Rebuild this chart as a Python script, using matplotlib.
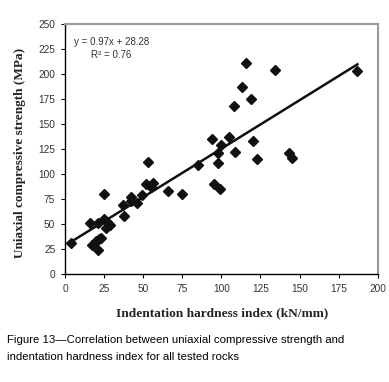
import matplotlib
matplotlib.use("Agg")
from matplotlib import pyplot as plt
import numpy as np

## Dados (indice de dureza x resistencia a compressao)
hardness = [4, 16, 17, 20, 21, 21, 22, 23, 25, 25, 26, 27, 29, 37, 38, 42, 42,
            46, 49, 52, 53, 55, 56, 66, 75, 85, 94, 95, 98, 98, 99, 100, 105,
            108, 109, 113, 116, 119, 120, 123, 134, 143, 145, 187]
ucs = [31, 51, 29, 33, 51, 24, 35, 36, 80, 55, 46, 52, 49, 69, 58, 77, 73,
       71, 79, 90, 112, 87, 91, 83, 80, 109, 135, 90, 121, 111, 85, 129, 137,
       168, 122, 187, 211, 175, 133, 115, 204, 121, 116, 203]

slope = 0.97
intercept = 28.28
x_ticks = [0, 25, 50, 75, 100, 125, 150, 175, 200]
y_ticks = [0, 25, 50, 75, 100, 125, 150, 175, 200, 225, 250]

fig = plt.figure(figsize=(3.89, 3.82), dpi=100)
ax = fig.add_axes([0.167, 0.283, 0.804, 0.654])

ax.plot(hardness, ucs, linestyle='none', marker='D', markersize=4.6,
        color='#111111', zorder=3)

## Linha de tendencia
lx = np.array([min(hardness), max(hardness)])
ax.plot(lx, slope * lx + intercept, color='#111111', linewidth=1.8, zorder=2)

ax.set_xlim(0, 200)
ax.set_ylim(0, 250)
ax.set_xticks(x_ticks)
ax.set_yticks(y_ticks)
ax.tick_params(direction='out', length=3, width=0.8, color='black',
               labelsize=7.3, labelcolor='#333333', pad=4)
for lab in ax.get_xticklabels() + ax.get_yticklabels():
    lab.set_family('Liberation Sans')

ax.spines['left'].set_color('black')
ax.spines['bottom'].set_color('black')
ax.spines['left'].set_linewidth(1.0)
ax.spines['bottom'].set_linewidth(1.0)
ax.spines['top'].set_color('#9a9a9a')
ax.spines['right'].set_color('#9a9a9a')
ax.spines['top'].set_linewidth(1.5)
ax.spines['right'].set_linewidth(1.5)

ax.text(0.03, 0.918, 'y = 0.97x + 28.28', transform=ax.transAxes,
        fontsize=7, family='Liberation Sans', color='#333333')
ax.text(0.083, 0.865, 'R\u00b2 = 0.76', transform=ax.transAxes,
        fontsize=7, family='Liberation Sans', color='#333333')

fig.text(0.572, 1 - 313 / 382, 'Indentation hardness index (kN/mm)',
         ha='center', va='center', fontsize=9.6, fontweight='bold',
         family='Liberation Serif', color='#222222')
fig.text(20 / 389, 1 - 153 / 382, 'Uniaxial compressive strength (MPa)',
         ha='center', va='center', rotation=90, fontsize=9.5,
         fontweight='bold', family='Liberation Serif', color='#222222')

fig.text(7 / 389, 1 - 340 / 382,
         'Figure 13\u2014Correlation between uniaxial compressive strength and',
         ha='left', va='center', fontsize=8.2, family='Liberation Sans',
         color='black')
fig.text(7 / 389, 1 - 357 / 382,
         'indentation hardness index for all tested rocks',
         ha='left', va='center', fontsize=8.2, family='Liberation Sans',
         color='black')

fig.savefig('out.png', dpi=100)
